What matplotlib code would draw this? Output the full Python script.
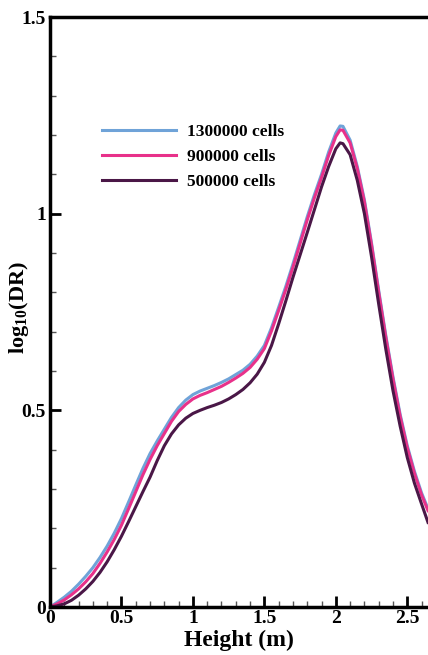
import numpy as np
import matplotlib
matplotlib.use("Agg")
import matplotlib.pyplot as plt
from matplotlib.ticker import MultipleLocator

plt.rcParams["font.family"] = ["Liberation Serif", "DejaVu Serif"]
plt.rcParams["font.weight"] = "bold"
plt.rcParams["mathtext.fontset"] = "custom"
plt.rcParams["mathtext.rm"] = "Liberation Serif:bold"
plt.rcParams["mathtext.it"] = "Liberation Serif:bold"
plt.rcParams["mathtext.bf"] = "Liberation Serif:bold"

# heights (m)
height = [0.00, 0.05, 0.10, 0.15, 0.20, 0.25, 0.30, 0.35, 0.40, 0.45,
          0.50, 0.55, 0.60, 0.65, 0.70, 0.75, 0.80, 0.85, 0.90, 0.95,
          1.00, 1.05, 1.10, 1.15, 1.20, 1.25, 1.30, 1.35, 1.40, 1.45,
          1.50, 1.55, 1.60, 1.65, 1.70, 1.75, 1.80, 1.85, 1.90, 1.95,
          2.00, 2.03, 2.05, 2.10, 2.15, 2.20, 2.25, 2.30, 2.35, 2.40,
          2.45, 2.50, 2.55, 2.60, 2.645]

dr_1300k = [0.0, 0.012, 0.025, 0.04, 0.058, 0.078, 0.10, 0.126, 0.155, 0.188,
            0.225, 0.267, 0.31, 0.352, 0.39, 0.422, 0.452, 0.482, 0.507, 0.526,
            0.54, 0.549, 0.556, 0.563, 0.571, 0.58, 0.591, 0.602, 0.617, 0.638,
            0.665, 0.71, 0.762, 0.815, 0.872, 0.932, 0.992, 1.048, 1.10, 1.157,
            1.205, 1.223, 1.222, 1.187, 1.12, 1.035, 0.925, 0.805, 0.69, 0.585,
            0.49, 0.41, 0.345, 0.29, 0.25]
dr_900k = [0.0, 0.008, 0.018, 0.031, 0.046, 0.064, 0.085, 0.111, 0.14, 0.172,
           0.208, 0.25, 0.293, 0.336, 0.375, 0.41, 0.441, 0.472, 0.497, 0.515,
           0.529, 0.538, 0.545, 0.553, 0.561, 0.571, 0.582, 0.594, 0.609, 0.63,
           0.657, 0.702, 0.754, 0.807, 0.864, 0.924, 0.984, 1.04, 1.092, 1.148,
           1.196, 1.213, 1.212, 1.18, 1.115, 1.03, 0.92, 0.80, 0.685, 0.58,
           0.485, 0.405, 0.34, 0.285, 0.245]
dr_500k = [0.0, 0.003, 0.008, 0.017, 0.03, 0.046, 0.065, 0.088, 0.115, 0.146,
           0.18, 0.217, 0.255, 0.293, 0.33, 0.372, 0.41, 0.44, 0.463, 0.48,
           0.492, 0.50, 0.507, 0.513, 0.52, 0.529, 0.54, 0.553, 0.57, 0.592,
           0.622, 0.665, 0.72, 0.778, 0.838, 0.895, 0.952, 1.01, 1.068, 1.12,
           1.165, 1.18, 1.178, 1.15, 1.085, 1.0, 0.89, 0.77, 0.655, 0.55,
           0.46, 0.38, 0.315, 0.262, 0.215]

series = [("1300000 cells", dr_1300k, "#6fa3d8"),
          ("900000 cells", dr_900k, "#e8318a"),
          ("500000 cells", dr_500k, "#4a1747")]

fig = plt.figure(figsize=(4.28, 6.55), dpi=100)
ax = fig.add_axes([50 / 428, 48 / 655, 378 / 428, 590 / 655])

for label, vals, col in series:
    ax.plot(height, vals, color=col, linewidth=2.2, label=label)

ax.set_xlim(0, 2.645)
ax.set_ylim(0, 1.5)
ax.xaxis.set_minor_locator(MultipleLocator(0.1))
ax.yaxis.set_minor_locator(MultipleLocator(0.1))
ax.set_xticks([0, 0.5, 1, 1.5, 2, 2.5])
ax.set_xticklabels(["0", "0.5", "1", "1.5", "2", "2.5"])
ax.set_yticks([0, 0.5, 1, 1.5])
ax.set_yticklabels(["0", "0.5", "1", "1.5"])

ax.tick_params(which="major", direction="in", length=8, width=2,
               labelsize=14, pad=3, top=False, right=False)
ax.tick_params(axis="x", which="major", pad=2)
ax.tick_params(which="minor", direction="in", length=4, width=1,
               color="#555555", top=False, right=False)

for side in ["left", "bottom", "top"]:
    ax.spines[side].set_linewidth(2.5)
ax.spines["right"].set_visible(False)

ax.set_xlabel("Height (m)", fontsize=17, fontweight="bold")
ax.xaxis.set_label_coords(0.5, -0.038)
ax.set_ylabel("log$_{10}$(DR)", fontsize=16, fontweight="bold")
ax.yaxis.set_label_coords(-0.05, 0.507)

leg = ax.legend(loc="upper left", bbox_to_anchor=(0.118, 0.83), frameon=False,
                fontsize=12.5, handlelength=4.3, handletextpad=0.65,
                labelspacing=0.5, borderaxespad=0)
for t in leg.get_texts():
    t.set_fontweight("bold")

fig.savefig("out.png", dpi=100, facecolor="white")
